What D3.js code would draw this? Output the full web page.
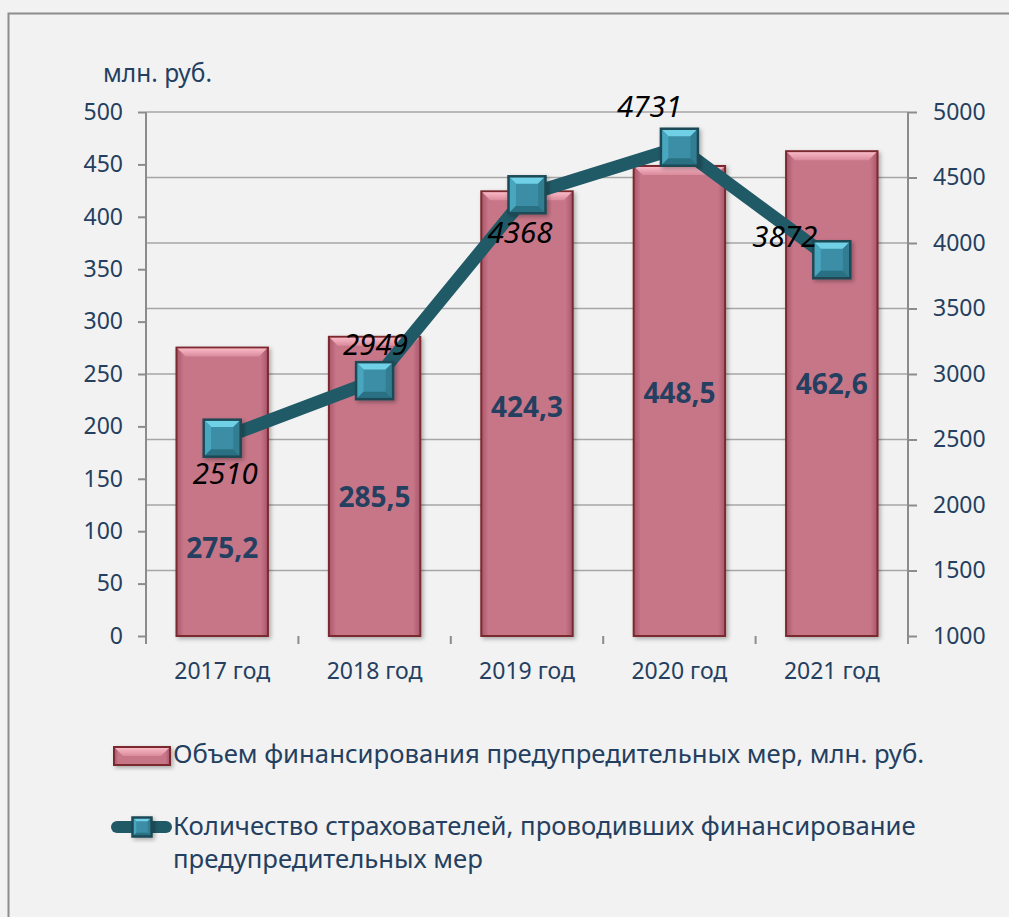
<!DOCTYPE html>
<html>
<head>
<meta charset="utf-8">
<script src="https://cdn.jsdelivr.net/npm/d3@7"></script>
<style>
html,body{margin:0;padding:0;background:#f2f2f2;overflow:hidden;}
svg{display:block;font-family:"Noto Sans",sans-serif;}
</style>
</head>
<body>
<div id="chart"></div>
<script>
(function(){

// data
const years = ["2017 год","2018 год","2019 год","2020 год","2021 год"];
const funding = [275.2,285.5,424.3,448.5,462.6];
const insurers = [2510,2949,4368,4731,3872];
const leftTicks = [0,50,100,150,200,250,300,350,400,450,500];
const rightTicks = [1000,1500,2000,2500,3000,3500,4000,4500,5000];
const seriesNames = [
  "Объем финансирования предупредительных мер, млн. руб.",
  ["Количество страхователей, проводивших финансирование","предупредительных мер"]
];

// manual label nudges (as placed in the original)
const barLabelDy = [66,21,3,2,0];
const lineLabelOffset = [[3,46],[1,-26],[-7,48],[-30,-30],[-47,-13]];

const width = 1009;
const height = 917;
const margin = {top:112,right:101,bottom:281,left:146};
const textColor = "#243f60";

const svg = d3.select("#chart")
.append("svg")
.attr("width",width)
.attr("height",height);

const defs = svg.append("defs");
const barGrad = defs.append("linearGradient").attr("id","barGrad").attr("x1","0").attr("x2","1").attr("y1","0").attr("y2","0");
barGrad.append("stop").attr("offset","0").attr("stop-color","#a9566a");
barGrad.append("stop").attr("offset","0.08").attr("stop-color","#c77688");
barGrad.append("stop").attr("offset","0.92").attr("stop-color","#c77688");
barGrad.append("stop").attr("offset","1").attr("stop-color","#a9566a");
const bevGrad = defs.append("linearGradient").attr("id","bevGrad").attr("x1","0").attr("x2","0").attr("y1","0").attr("y2","1");
bevGrad.append("stop").attr("offset","0").attr("stop-color","#f9b8c5");
bevGrad.append("stop").attr("offset","1").attr("stop-color","#d98a9b");
const shadow = defs.append("filter").attr("id","shadow").attr("x","-20%").attr("y","-20%").attr("width","150%").attr("height","150%");
shadow.append("feDropShadow").attr("dx",2).attr("dy",2).attr("stdDeviation",2).attr("flood-color","#000").attr("flood-opacity",0.3);

// outer frame
svg.append("rect")
.attr("x",8.5).attr("y",13.5)
.attr("width",width+10).attr("height",height+10)
.attr("fill","#f2f2f2")
.attr("stroke","#8c8c8c")
.attr("stroke-width",2);

const x = d3.scaleBand()
.domain(years)
.range([margin.left,width-margin.right])
.paddingInner(0.4)
.paddingOuter(0.2);

const y = d3.scaleLinear()
.domain([0,500])
.range([height-margin.bottom,margin.top]);

const y2 = d3.scaleLinear()
.domain([1000,5000])
.range([height-margin.bottom,margin.top]);

const x0 = margin.left, x1 = width-margin.right, yb = height-margin.bottom;

// gridlines (follow secondary axis)
svg.append("g")
.selectAll("line")
.data(rightTicks.slice(1))
.join("line")
.attr("x1",x0).attr("x2",x1)
.attr("y1",d=>y2(d)).attr("y2",d=>y2(d))
.attr("stroke","#a6a6a6")
.attr("stroke-width",1.5);

// axes
const styleAxis = g=>{
  g.select(".domain").remove();
  g.selectAll(".tick line").attr("stroke","#8c8c8c").attr("stroke-width",2);
  g.selectAll(".tick text").attr("fill",textColor).attr("font-size","23px").attr("font-family","Noto Sans");
};

svg.append("g")
.attr("transform",`translate(${x0},0)`)
.call(d3.axisLeft(y).tickValues(leftTicks).tickSizeInner(8).tickSizeOuter(0).tickPadding(15))
.call(styleAxis);

svg.append("g")
.attr("transform",`translate(${x1},0)`)
.call(d3.axisRight(y2).tickValues(rightTicks).tickFormat(d3.format("d")).tickSizeInner(9).tickSizeOuter(0).tickPadding(16))
.call(styleAxis);

// category boundaries on x axis
const step = x.step();
svg.append("g")
.selectAll("line")
.data(d3.range(years.length+1))
.join("line")
.attr("x1",i=>x0+i*step).attr("x2",i=>x0+i*step)
.attr("y1",yb).attr("y2",yb+8)
.attr("stroke","#8c8c8c").attr("stroke-width",2);

svg.append("g")
.selectAll("text")
.data(years)
.join("text")
.attr("x",d=>x(d)+x.bandwidth()/2)
.attr("y",yb+43)
.attr("text-anchor","middle")
.attr("fill",textColor)
.attr("font-size","23px")
.text(d=>d);

// axis lines
svg.append("line").attr("x1",x0).attr("x2",x0).attr("y1",margin.top).attr("y2",yb+8).attr("stroke","#8c8c8c").attr("stroke-width",2);
svg.append("line").attr("x1",x1).attr("x2",x1).attr("y1",margin.top).attr("y2",yb+8).attr("stroke","#8c8c8c").attr("stroke-width",2);

// bars
function bevelBar(g,bx,by,bw,bh){
  const b = Math.min(9,bh/2);
  g.append("rect").attr("x",bx).attr("y",by).attr("width",bw).attr("height",bh)
  .attr("fill","url(#barGrad)").attr("stroke","#7a2a2e").attr("stroke-width",2)
  .attr("filter","url(#shadow)");
  g.append("path")
  .attr("d",`M${bx+1},${by+1}L${bx+bw-1},${by+1}L${bx+bw-b},${by+b}L${bx+b},${by+b}Z`)
  .attr("fill","url(#bevGrad)");
}

const bars = svg.append("g");
funding.forEach((v,i)=>{
  bevelBar(bars,x(years[i]),y(v),x.bandwidth(),yb-y(v));
});

bars.selectAll("text")
.data(funding)
.join("text")
.attr("x",(d,i)=>x(years[i])+x.bandwidth()/2)
.attr("y",(d,i)=>(y(d)+yb)/2+barLabelDy[i])
.attr("text-anchor","middle")
.attr("fill",textColor)
.attr("font-size","28px")
.attr("font-weight","bold")
.text(d=>d.toFixed(1).replace(".",","));

// line
const line = d3.line()
.x((d,i)=>x(years[i])+x.bandwidth()/2)
.y(d=>y2(d));

svg.append("path")
.datum(insurers)
.attr("fill","none")
.attr("stroke","#215a67")
.attr("stroke-width",13)
.attr("stroke-linejoin","round")
.attr("d",line);

function bevelMarker(g,cx,cy,s){
  const h = s/2, b = s*0.2;
  const L=cx-h,R=cx+h,T=cy-h,B=cy+h;
  const m = g.append("g").attr("filter","url(#shadow)");
  m.append("rect").attr("x",L).attr("y",T).attr("width",s).attr("height",s).attr("fill","#3a8ea6");
  m.append("path").attr("d",`M${L},${T}L${R},${T}L${R-b},${T+b}L${L+b},${T+b}Z`).attr("fill","#6fd0e6");
  m.append("path").attr("d",`M${L},${T}L${L+b},${T+b}L${L+b},${B-b}L${L},${B}Z`).attr("fill","#4aa6bf");
  m.append("path").attr("d",`M${R},${T}L${R-b},${T+b}L${R-b},${B-b}L${R},${B}Z`).attr("fill","#317d92");
  m.append("path").attr("d",`M${L},${B}L${L+b},${B-b}L${R-b},${B-b}L${R},${B}Z`).attr("fill","#2b7083");
  m.append("rect").attr("x",L).attr("y",T).attr("width",s).attr("height",s)
  .attr("fill","none").attr("stroke","#1d4a55").attr("stroke-width",2.5);
}

const markers = svg.append("g");
insurers.forEach((v,i)=>{
  bevelMarker(markers,x(years[i])+x.bandwidth()/2,y2(v),37);
});

svg.append("g")
.selectAll("text")
.data(insurers)
.join("text")
.attr("x",(d,i)=>x(years[i])+x.bandwidth()/2+lineLabelOffset[i][0])
.attr("y",(d,i)=>y2(d)+lineLabelOffset[i][1])
.attr("text-anchor","middle")
.attr("fill","#000")
.attr("font-size","29.5px")
.attr("font-style","italic")
.text(d=>d);

// unit label
svg.append("text")
.attr("x",103)
.attr("y",82)
.attr("fill",textColor)
.attr("font-size","24.5px")
.text("млн. руб.");

// legend
const leg = svg.append("g");
bevelBar(leg,114,747,56,18);
leg.append("text")
.attr("x",173).attr("y",763)
.attr("fill",textColor)
.attr("font-size","25.7px")
.text(seriesNames[0]);

leg.append("line")
.attr("x1",117).attr("x2",166).attr("y1",827).attr("y2",827)
.attr("stroke","#215a67").attr("stroke-width",12).attr("stroke-linecap","round");
bevelMarker(leg,142,827,19);
leg.append("text")
.attr("x",173).attr("y",835)
.attr("fill",textColor)
.attr("font-size","25.7px")
.selectAll("tspan")
.data(seriesNames[1])
.join("tspan")
.attr("x",173)
.attr("dy",(d,i)=>i===0?0:33)
.text(d=>d);

})();
</script>
</body>
</html>
